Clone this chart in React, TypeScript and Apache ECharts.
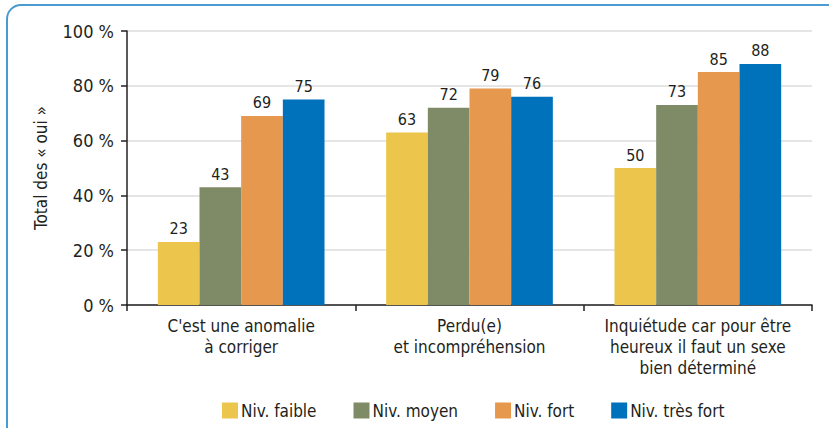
import React, { useEffect, useRef } from "react";
import * as echarts from "echarts";

const categories = [
  "C'est une anomalie\nà corriger",
  "Perdu(e)\net incompréhension",
  "Inquiétude car pour être\nheureux il faut un sexe\nbien déterminé",
];
const seriesNames = ["Niv. faible", "Niv. moyen", "Niv. fort", "Niv. très fort"];
const faible = [23, 63, 50];
const moyen = [43, 72, 73];
const fort = [69, 79, 85];
const tresFort = [75, 76, 88];
const colors = ["#ECC54C", "#7F8B67", "#E6984F", "#0071BB"];
const yTicks = { min: 0, max: 100, interval: 20 };

const FONT = "'Liberation Sans Narrow', 'DejaVu Sans Condensed', 'Roboto', sans-serif";
const TXT = "#231F20";

export default function App() {
  const ref = useRef<HTMLDivElement>(null);
  useEffect(() => {
    document.body.style.margin = "0";
    const chart = echarts.init(ref.current!, undefined, { renderer: "svg" });
    const data = [faible, moyen, fort, tresFort];
    chart.setOption({
      animation: false,
      textStyle: { fontFamily: FONT, color: TXT },
      graphic: [
        {
          type: "rect",
          shape: { x: 7, y: 5, width: 860, height: 460, r: 14 },
          style: { fill: "none", stroke: "#4A9BD2", lineWidth: 2 },
          z: -1,
        },
      ],
      grid: { left: 127, right: 17, top: 31, bottom: 123 },
      legend: {
        left: 217,
        top: 397,
        itemWidth: 16,
        itemHeight: 16,
        itemGap: 37,
        icon: "rect",
        textStyle: { fontFamily: FONT, fontSize: 17, color: TXT, padding: [0, 0, 0, -2] },
        data: seriesNames,
      },
      xAxis: {
        type: "category",
        data: categories,
        axisLine: { lineStyle: { color: "#222", width: 1.5 } },
        axisTick: { show: true, length: 6, lineStyle: { color: "#222", width: 1.5 } },
        axisLabel: {
          fontFamily: FONT,
          fontSize: 17,
          color: TXT,
          lineHeight: 21,
          margin: 10,
          interval: 0,
        },
      },
      yAxis: {
        type: "value",
        min: yTicks.min,
        max: yTicks.max,
        interval: yTicks.interval,
        name: "Total des « oui »",
        nameLocation: "middle",
        nameGap: 78,
        nameTextStyle: { fontFamily: FONT, fontSize: 17, color: TXT },
        axisLine: { show: true, lineStyle: { color: "#222", width: 1.5 } },
        axisTick: { show: true, length: 6, lineStyle: { color: "#222", width: 1.5 } },
        axisLabel: {
          formatter: "{value} %",
          fontFamily: FONT,
          fontSize: 18,
          color: TXT,
          margin: 13,
        },
        splitLine: { lineStyle: { color: "#DCDCDC", width: 1.5 } },
      },
      series: seriesNames.map((name, i) => ({
        name,
        type: "bar",
        data: data[i],
        barGap: "0%",
        barCategoryGap: "27%",
        itemStyle: { color: colors[i] },
        label: {
          show: true,
          position: "top",
          distance: 5,
          fontFamily: FONT,
          fontSize: 16,
          color: TXT,
        },
      })),
    });
    return () => chart.dispose();
  }, []);
  return <div ref={ref} style={{ width: 829, height: 428 }} />;
}
